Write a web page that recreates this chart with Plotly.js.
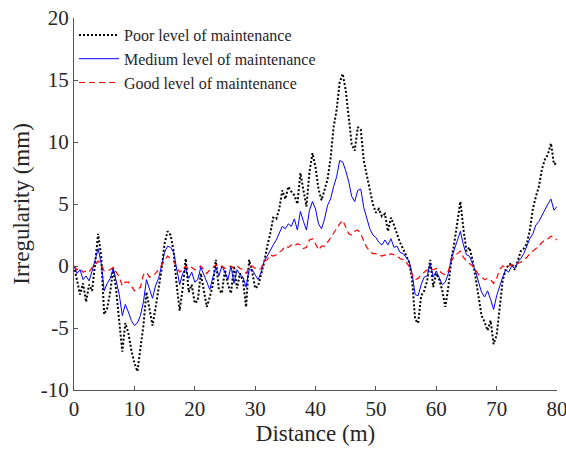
<!DOCTYPE html>
<html>
<head>
<meta charset="utf-8">
<script src="https://cdn.plot.ly/plotly-3.0.1.min.js"></script>
<style>html,body{margin:0;padding:0;background:#fff;}#chart{width:566px;height:452px;}</style>
</head>
<body>
<div id="chart"></div>
<script>
// Distance grid (m), 0.5 m spacing
const distance = [
0,0.5,1,1.5,2,2.5,3,3.5,4,4.5,5,5.5,6,6.5,7,7.5,8,8.5,9,9.5,
10,10.5,11,11.5,12,12.5,13,13.5,14,14.5,15,15.5,16,16.5,17,17.5,18,18.5,19,19.5,
20,20.5,21,21.5,22,22.5,23,23.5,24,24.5,25,25.5,26,26.5,27,27.5,28,28.5,29,29.5,
30,30.5,31,31.5,32,32.5,33,33.5,34,34.5,35,35.5,36,36.5,37,37.5,38,38.5,39,39.5,
40,40.5,41,41.5,42,42.5,43,43.5,44,44.5,45,45.5,46,46.5,47,47.5,48,48.5,49,49.5,
50,50.5,51,51.5,52,52.5,53,53.5,54,54.5,55,55.5,56,56.5,57,57.5,58,58.5,59,59.5,
60,60.5,61,61.5,62,62.5,63,63.5,64,64.5,65,65.5,66,66.5,67,67.5,68,68.5,69,69.5,
70,70.5,71,71.5,72,72.5,73,73.5,74,74.5,75,75.5,76,76.5,77,77.5,78,78.5,79,79.5,80];

const poor = [
0.0,-1.2,-2.3,-1.4,-2.9,-1.5,-2.0,0.2,2.6,0.8,-3.9,-3.4,-2.1,-0.2,-2.0,-4.5,-6.9,-4.6,-5.4,-6.8,
-7.8,-8.5,-6.7,-4.8,-2.1,-3.5,-4.8,-3.4,-2.0,-0.3,1.8,2.8,2.5,1.2,-1.5,-3.6,-1.8,0.6,-2.1,-1.5,
-3.0,-2.8,-0.6,-1.9,-3.3,-2.5,-1.5,0.5,-1.9,-2.2,-0.3,-1.5,-2.2,0.0,-1.8,-0.6,-1.2,-3.3,0.5,-0.4,
-1.8,-1.6,-0.6,0.3,1.6,2.6,3.9,3.8,4.6,6.1,5.4,6.4,6.0,5.7,5.0,7.5,6.1,4.8,7.6,9.1,
8.0,6.2,5.3,6.2,7.0,8.7,11.2,12.6,14.8,15.5,14.2,12.0,9.8,9.3,11.2,11.0,8.5,7.3,6.0,5.0,
4.3,4.6,4.0,4.2,2.8,3.9,3.3,2.6,1.9,1.4,0.9,0.3,-1.1,-4.3,-4.6,-2.4,-2.0,-1.2,0.5,-1.7,
-0.6,-1.1,-2.0,-3.3,-1.7,0.5,1.9,3.7,5.2,3.0,1.2,1.5,0.5,-0.9,-2.6,-4.0,-4.5,-5.2,-4.4,-6.3,
-5.6,-3.5,-1.2,-0.3,0.1,0.2,-0.3,0.4,1.2,1.4,1.8,2.9,4.6,5.6,6.4,7.8,8.6,9.0,9.9,8.2,8.3];

const medium = [
0.0,-0.6,-0.3,-1.1,-0.8,-1.2,-0.4,0.5,1.4,0.2,-2.0,-1.4,-1.0,-0.2,-1.2,-2.3,-4.0,-3.1,-3.7,-4.4,
-4.8,-4.6,-4.0,-2.9,-1.1,-1.8,-2.6,-1.6,-1.0,0.0,1.1,1.6,1.5,1.1,-0.2,-1.5,-0.6,-0.2,-1.0,-0.5,
-1.3,-1.1,-0.1,-0.7,-1.2,-1.9,-0.9,-0.1,-0.8,0.0,-0.5,-1.1,0.0,-1.4,-0.3,-0.7,-0.9,-1.7,-0.3,-0.3,
-0.7,-1.1,-0.5,0.4,0.8,1.3,1.7,2.1,2.7,3.2,3.0,3.4,3.2,3.8,2.9,4.4,3.6,2.9,4.5,5.2,
4.6,3.4,3.0,3.8,4.9,5.4,6.4,7.2,8.5,8.4,7.7,6.8,5.6,5.2,6.1,6.2,4.7,3.8,3.0,2.5,
2.3,1.9,1.7,2.1,1.7,2.2,1.5,1.6,1.1,1.0,0.7,0.4,-0.6,-2.3,-2.4,-1.5,-0.9,-0.8,0.2,-0.9,
-0.4,-0.9,-1.5,-1.3,-0.6,0.6,1.4,2.1,2.8,1.7,0.9,0.8,0.2,-0.4,-1.3,-2.1,-2.5,-2.0,-2.7,-3.5,
-2.4,-1.6,-0.9,-0.3,-0.5,0.0,-0.2,0.3,0.6,1.0,1.6,2.2,2.6,3.3,3.6,4.1,4.5,5.0,5.4,4.5,4.8];

const good = [
0.0,-0.3,-0.2,-0.5,-0.4,-0.5,-0.1,0.1,0.4,0.1,-0.4,-0.4,-0.3,-0.1,-0.5,-0.9,-1.6,-1.3,-1.3,-1.6,
-2.0,-1.9,-1.7,-0.7,-0.5,-0.9,-0.8,-0.6,-0.3,0.1,0.4,0.8,0.6,0.4,-0.1,-0.5,-0.3,0.0,-0.3,-0.1,
-0.3,-0.2,0.0,-0.3,-0.6,-0.3,-0.1,0.1,-0.1,0.0,-0.2,-0.1,0.0,-0.2,0.0,-0.2,-0.3,-0.6,-0.1,0.0,
-0.2,-0.3,-0.2,0.4,0.5,0.9,0.8,0.9,1.1,1.3,1.6,1.5,1.7,1.6,1.8,1.7,1.4,1.5,2.1,2.2,
1.8,1.3,1.6,1.6,1.9,2.3,2.7,3.1,3.4,3.7,3.2,2.6,2.5,2.8,2.9,2.6,2.0,1.5,1.2,1.0,
1.0,0.9,0.8,0.9,0.8,1.0,0.9,0.8,0.6,0.5,0.3,0.0,-0.7,-1.1,-1.0,-0.7,-0.5,-0.3,-0.2,-0.3,
-0.2,-0.4,-0.6,-0.7,-0.4,0.4,0.8,1.0,1.2,0.7,0.4,0.2,0.0,-0.3,-0.7,-0.9,-1.1,-1.0,-1.1,-1.4,
-1.0,-0.3,0.0,-0.1,0.0,0.1,0.0,0.2,0.3,0.5,0.7,1.0,1.2,1.4,1.6,1.9,2.1,2.2,2.4,2.3,2.1];

const seriesNames = ["Poor level of maintenance", "Medium level of maintenance", "Good level of maintenance"];
const xTicks = [0,10,20,30,40,50,60,70,80];
const yTicks = [-10,-5,0,5,10,15,20];

const traces = [
  {x: distance, y: poor, type: "scatter", mode: "lines", name: seriesNames[0],
   line: {color: "#000000", width: 2, dash: "2px,2px"}},
  {x: distance, y: medium, type: "scatter", mode: "lines", name: seriesNames[1],
   line: {color: "#0000FF", width: 1}},
  {x: distance, y: good, type: "scatter", mode: "lines", name: seriesNames[2],
   line: {color: "#FF0000", width: 1.2, dash: "6px,4px"}}
];

const font = {family: "Liberation Serif, Times New Roman, serif", color: "#262626"};

const layout = {
  width: 566, height: 452,
  margin: {l: 74, r: 9, t: 18, b: 62},
  paper_bgcolor: "#ffffff", plot_bgcolor: "#ffffff",
  font: Object.assign({size: 21}, font),
  showlegend: true,
  legend: {x: 0.0, y: 1.0, xanchor: "left", yanchor: "top", bgcolor: "rgba(255,255,255,0)",
           font: Object.assign({size: 16}, font), tracegroupgap: 0, itemwidth: 40},
  xaxis: {range: [0, 80], tickvals: xTicks, ticktext: xTicks.map(String),
          showgrid: false, zeroline: false, showline: true, linecolor: "#555555", linewidth: 1,
          ticks: "inside", ticklen: 4, tickcolor: "#555555", mirror: false,
          ticklabeloverflow: "allow",
          tickfont: Object.assign({size: 21}, font),
          title: {text: "Distance (m)", font: Object.assign({size: 23}, font), standoff: 4}},
  yaxis: {range: [-10, 20], tickvals: yTicks, ticktext: yTicks.map(String),
          showgrid: false, zeroline: false, showline: true, linecolor: "#555555", linewidth: 1,
          ticks: "inside", ticklen: 4, tickcolor: "#555555", mirror: false,
          ticklabeloverflow: "allow",
          tickfont: Object.assign({size: 21}, font),
          title: {text: "Irregularity (mm)", font: Object.assign({size: 23}, font), standoff: 4}}
};

Plotly.newPlot("chart", traces, layout, {displayModeBar: false, staticPlot: true});
</script>
</body>
</html>
